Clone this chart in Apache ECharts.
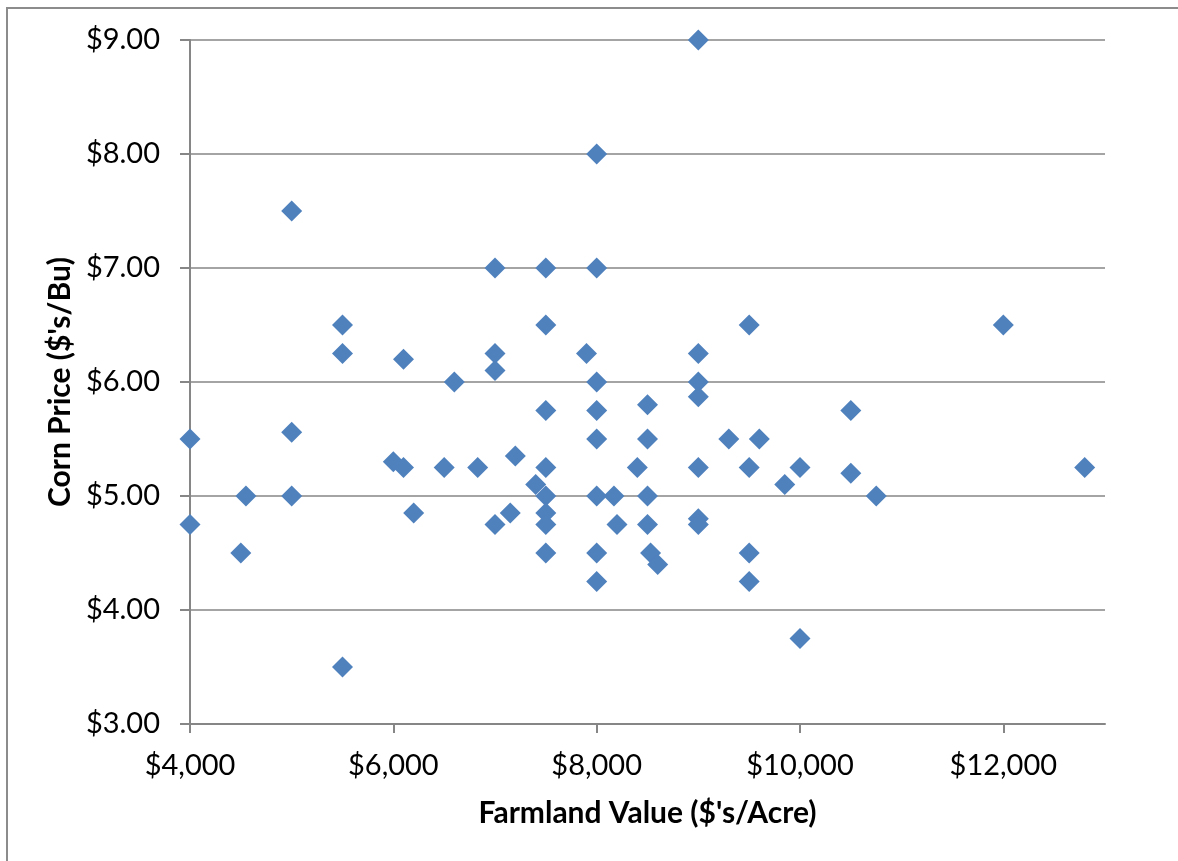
<!DOCTYPE html>
<html>
<head>
<meta charset="utf-8">
<script src="https://cdn.jsdelivr.net/npm/echarts@6/dist/echarts.min.js"></script>
<style>
html,body{margin:0;padding:0;background:#fff;}
#c{width:1178px;height:861px;}
</style>
</head>
<body>
<div id="c"></div>
<script>
// Farmland value ($/acre) and corn price ($/bu) pairs
var farmlandValue = [
  4000, 4000, 4500, 4550, 5000, 5000, 5000, 5500, 5500, 5500,
  6000, 6100, 6100, 6200, 6500, 6600, 6830, 7000, 7000, 7000,
  7000, 7150, 7200, 7400, 7500, 7500, 7500, 7500, 7500, 7500,
  7500, 7500, 7900, 8000, 8000, 8000, 8000, 8000, 8000, 8000,
  8000, 8170, 8200, 8400, 8500, 8500, 8500, 8500, 8530, 8600,
  9000, 9000, 9000, 9000, 9000, 9000, 9000, 9300, 9500, 9500,
  9500, 9500, 9600, 9850, 10000, 10000, 10500, 10500, 10750, 12000,
  12800
];
var cornPrice = [
  5.50, 4.75, 4.50, 5.00, 7.50, 5.56, 5.00, 6.50, 6.25, 3.50,
  5.30, 6.20, 5.25, 4.85, 5.25, 6.00, 5.25, 7.00, 6.25, 6.10,
  4.75, 4.85, 5.35, 5.10, 7.00, 6.50, 5.75, 5.25, 5.00, 4.85,
  4.75, 4.50, 6.25, 8.00, 7.00, 6.00, 5.75, 5.50, 5.00, 4.50,
  4.25, 5.00, 4.75, 5.25, 5.80, 5.50, 5.00, 4.75, 4.50, 4.40,
  9.00, 6.25, 6.00, 5.87, 5.25, 4.80, 4.75, 5.50, 6.50, 5.25,
  4.50, 4.25, 5.50, 5.10, 5.25, 3.75, 5.75, 5.20, 5.00, 6.50,
  5.25
];
var xAxisTitle = "Farmland Value ($'s/Acre)";
var yAxisTitle = "Corn Price ($'s/Bu)";

var points = farmlandValue.map(function (v, i) { return [v, cornPrice[i]]; });

var chart = echarts.init(document.getElementById('c'));
var FONT = 'Lato';
chart.setOption({
  animation: false,
  backgroundColor: '#ffffff',
  graphic: [{
    type: 'rect',
    shape: { x: 7, y: 8, width: 1300, height: 1000 },
    style: { fill: 'none', stroke: '#8c8c8c', lineWidth: 2 },
    silent: true
  }],
  grid: { left: 190, top: 40, right: 73, bottom: 137, containLabel: false },
  xAxis: {
    type: 'value',
    min: 4000, max: 13000, interval: 2000,
    name: xAxisTitle,
    nameLocation: 'middle',
    nameGap: 74,
    nameTextStyle: { fontFamily: FONT, fontSize: 30, fontWeight: 'bold', color: '#000' },
    axisLine: { show: true, lineStyle: { color: '#868686', width: 2 } },
    axisTick: { show: true, length: 9, lineStyle: { color: '#868686', width: 2 } },
    splitLine: { show: false },
    axisLabel: {
      fontFamily: FONT, fontSize: 29, color: '#000', margin: 27,
      formatter: function (v) { return '$' + v.toLocaleString('en-US'); }
    }
  },
  yAxis: {
    type: 'value',
    min: 3, max: 9, interval: 1,
    name: yAxisTitle,
    nameLocation: 'middle',
    nameGap: 115,
    nameTextStyle: { fontFamily: FONT, fontSize: 30, fontWeight: 'bold', color: '#000' },
    axisLine: { show: true, lineStyle: { color: '#868686', width: 2 } },
    axisTick: { show: true, length: 10, lineStyle: { color: '#868686', width: 2 } },
    splitLine: { show: true, lineStyle: { color: '#868686', width: 1.5 } },
    axisLabel: {
      fontFamily: FONT, fontSize: 29, color: '#000', margin: 30,
      formatter: function (v) { return '$' + v.toFixed(2); }
    }
  },
  series: [{
    type: 'scatter',
    symbol: 'diamond',
    symbolSize: 21,
    itemStyle: { color: '#4F81BD', opacity: 1 },
    data: points
  }]
});
</script>
</body>
</html>
